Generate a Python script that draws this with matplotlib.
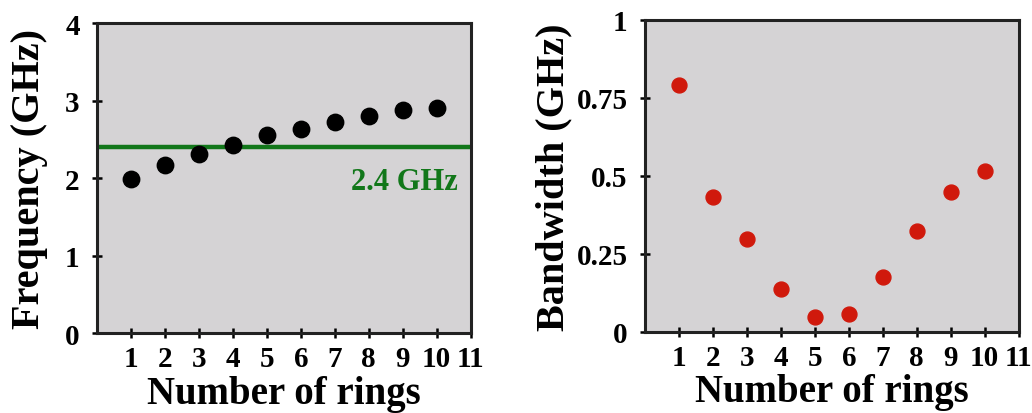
import matplotlib
matplotlib.use('Agg')
import matplotlib.pyplot as plt
import numpy as np

rings = [1, 2, 3, 4, 5, 6, 7, 8, 9, 10]
frequency = [1.99, 2.17, 2.31, 2.43, 2.55, 2.63, 2.72, 2.80, 2.88, 2.91]
bandwidth = [0.792, 0.432, 0.297, 0.137, 0.046, 0.058, 0.176, 0.322, 0.447, 0.516]
target_freq = 2.4
x_ticks = [1, 2, 3, 4, 5, 6, 7, 8, 9, 10, 11]
freq_ticks = [0, 1, 2, 3, 4]
bw_ticks = [0, 0.25, 0.5, 0.75, 1]
bw_labels = ['0', '0.25', '0.5', '0.75', '1']

plt.rcParams['font.family'] = ['Liberation Serif', 'DejaVu Serif']
plt.rcParams['font.weight'] = 'bold'

bg = '#d5d3d5'
fig = plt.figure(figsize=(10.32, 4.14), dpi=100)
ax1 = fig.add_axes([0.094, 0.193, 0.362, 0.749])
ax2 = fig.add_axes([0.625, 0.196, 0.362, 0.754])

for ax in (ax1, ax2):
    ax.set_facecolor(bg)
    for s in ax.spines.values():
        s.set_linewidth(2.2)
        s.set_color('#222222')
    ax.set_xlim(0, 11)
    ax.set_xticks(x_ticks)
    ax.tick_params(direction='inout', length=7, width=1.8, labelsize=21)
    ax.tick_params(axis='x', pad=5)
    ax.tick_params(axis='y', pad=9)
    ax.set_xlabel('Number of rings', fontsize=28, fontweight='bold', labelpad=2)

# left: resonant frequency
ax1.scatter(rings, frequency, s=140, color='black', zorder=3)
ax1.axhline(target_freq, color='#12771a', lw=3.2, zorder=2)
ax1.text(9.06, 1.95, '%.1f GHz' % target_freq, color='#12771a', fontsize=22,
         fontweight='bold', ha='center', va='center')
ax1.set_ylim(0, 4)
ax1.set_yticks(freq_ticks)
ax1.set_ylabel('Frequency (GHz)', fontsize=29, fontweight='bold', labelpad=12)

# right: bandwidth
ax2.scatter(rings, bandwidth, s=115, color='#d0190c', zorder=3)
ax2.set_ylim(0, 1)
ax2.set_yticks(bw_ticks)
ax2.set_yticklabels(bw_labels)
ax2.set_ylabel('Bandwidth (GHz)', fontsize=29, fontweight='bold', labelpad=3)

fig.savefig('out.png', dpi=100)
